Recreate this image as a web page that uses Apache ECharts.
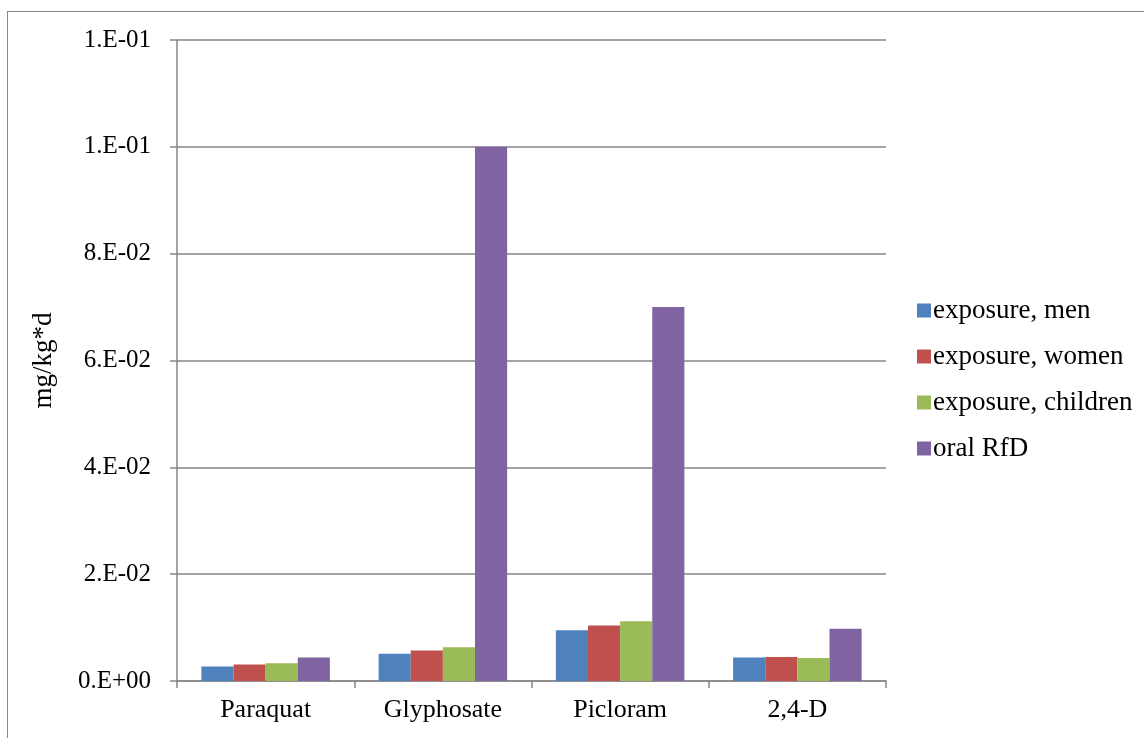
<!DOCTYPE html>
<html>
<head>
<meta charset="utf-8">
<script src="https://cdn.jsdelivr.net/npm/echarts@6/dist/echarts.min.js"></script>
<style>
  html,body{margin:0;padding:0;background:#fff;overflow:hidden;}
  #frame{position:absolute;left:7px;top:11px;width:1300px;height:900px;border:1.5px solid #868686;box-sizing:border-box;}
  #chart{position:absolute;left:0;top:0;width:1144px;height:738px;}
</style>
</head>
<body>
<div id="frame"></div>
<div id="chart"></div>
<script>
// values (mg/kg*d)
const herbicides = ['Paraquat', 'Glyphosate', 'Picloram', '2,4-D'];
const seriesNames = ['exposure, men', 'exposure, women', 'exposure, children', 'oral RfD'];
const men      = [0.0027, 0.0051, 0.0095, 0.0044];
const women    = [0.0031, 0.0057, 0.0104, 0.0045];
const children = [0.0033, 0.0063, 0.0112, 0.0043];
const oralRfD  = [0.0044, 0.1,    0.07,   0.0098];
const colors = ['#4F81BD', '#C0504D', '#9BBB59', '#8064A2'];

// Excel style "0.E+00"
function sci(v){
  if (Math.abs(v) < 1e-12) return '0.E+00';
  const s = v.toExponential(0).split('e');
  const e = parseInt(s[1], 10);
  return s[0] + '.E' + (e < 0 ? '-' : '+') + String(Math.abs(e)).padStart(2, '0');
}

const font = 'Liberation Serif';
const c = echarts.init(document.getElementById('chart'));
const data = [men, women, children, oralRfD];

c.setOption({
  animation: false,
  color: colors,
  textStyle: { fontFamily: font },
  grid: { left: 177, right: 258, top: 40, bottom: 57 },
  legend: {
    orient: 'vertical', left: 917, top: 297, padding: 0,
    itemWidth: 14, itemHeight: 14, itemGap: 19,
    icon: 'rect',
    textStyle: { fontFamily: font, fontSize: 27, color: '#000', padding: [0,0,0,-3] },
    data: seriesNames
  },
  xAxis: {
    type: 'category', data: herbicides,
    axisLine: { lineStyle: { color: '#868686', width: 1.5 } },
    axisTick: { show: true, length: 7, lineStyle: { color: '#868686', width: 1.5 } },
    axisLabel: { color: '#000', fontSize: 26, fontFamily: font, margin: 16 }
  },
  yAxis: {
    type: 'value', min: 0, max: 0.12, interval: 0.02,
    name: 'mg/kg*d', nameLocation: 'middle', nameGap: 120, nameRotate: 90,
    nameTextStyle: { color: '#000', fontSize: 27, fontFamily: font },
    axisLine: { show: true, lineStyle: { color: '#868686', width: 1.5 } },
    axisTick: { show: true, length: 7, lineStyle: { color: '#868686', width: 1.5 } },
    splitLine: { lineStyle: { color: '#868686', width: 1.5 } },
    axisLabel: { color: '#000', fontSize: 25, fontFamily: font, margin: 26, formatter: sci }
  },
  series: seriesNames.map((n, i) => ({
    name: n, type: 'bar', data: data[i],
    barGap: '0%', barCategoryGap: '27.5%'
  }))
});
</script>
</body>
</html>
